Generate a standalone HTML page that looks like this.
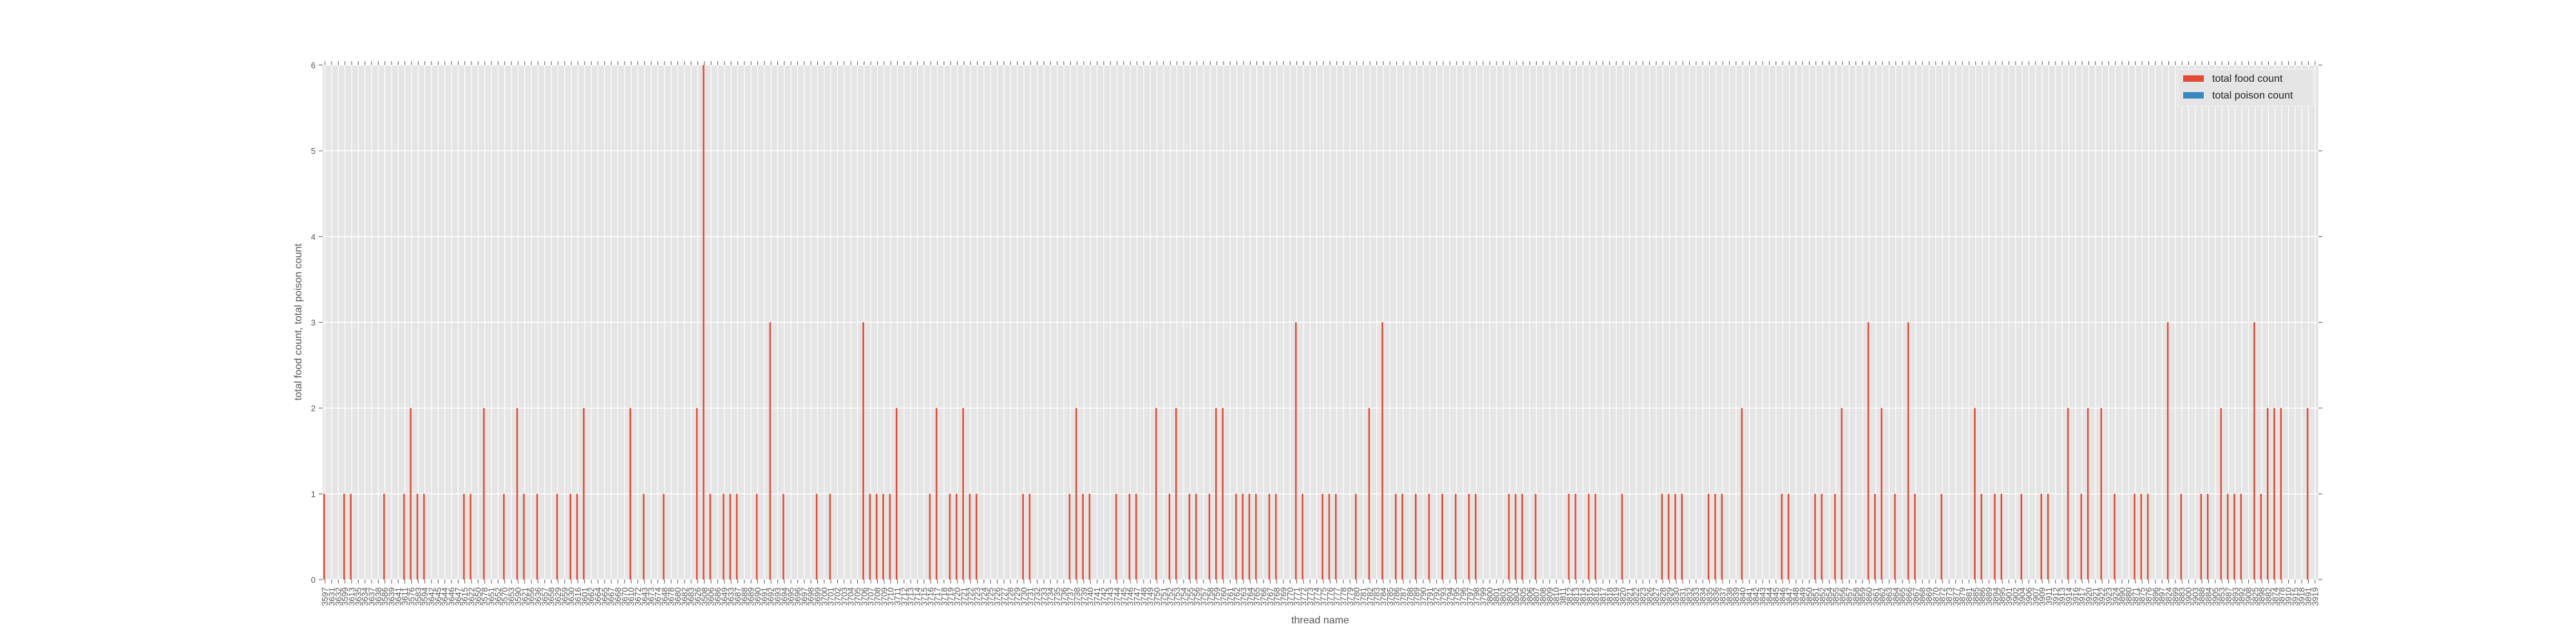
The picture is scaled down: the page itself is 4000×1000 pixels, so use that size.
<!DOCTYPE html>
<html><head><meta charset="utf-8"><style>
html,body{margin:0;padding:0;background:#fff;}
svg{display:block;}
text{font-family:"Liberation Sans",sans-serif;}
</style></head><body>
<svg id="chart" width="4000" height="1000" viewBox="0 0 4000 1000" xmlns="http://www.w3.org/2000/svg">
<rect x="0" y="0" width="4000" height="1000" fill="#ffffff"/>
<rect id="plotbg" x="501" y="101" width="3099" height="799" fill="#E5E5E5"/>
<g id="grid"></g>
<g id="bars"></g>
<g id="axes"></g>
<text x="2050" y="968" font-size="16" fill="#555" text-anchor="middle">thread name</text>
<text transform="translate(468,500) rotate(-90)" font-size="16" fill="#555" text-anchor="middle">total food count, total poison count</text>
<g>
<rect x="3382" y="108" width="210" height="57" fill="#E5E5E5" stroke="#f4f4f4" stroke-width="1"/>
<rect x="3390" y="117" width="32" height="10" fill="#E24A33"/>
<text x="3435" y="127" font-size="16" fill="#222">total food count</text>
<rect x="3390" y="143" width="32" height="10" fill="#348ABD"/>
<text x="3435" y="153" font-size="16" fill="#222">total poison count</text>
</g>
</svg>
<script>
const foodValues = [
1,0,0,1,1,0,0,0,0,1,0,0,1,2,1,1,0,0,0,0,
0,1,1,0,2,0,0,1,0,2,1,0,1,0,0,1,0,1,1,2,
0,0,0,0,0,0,2,0,1,0,0,1,0,0,0,0,2,6,1,0,
1,1,1,0,0,1,0,3,0,1,0,0,0,0,1,0,1,0,0,0,
0,3,1,1,1,1,2,0,0,0,0,1,2,0,1,1,2,1,1,0,
0,0,0,0,0,1,1,0,0,0,0,0,1,2,1,1,0,0,0,1,
0,1,1,0,0,2,0,1,2,0,1,1,0,1,2,2,0,1,1,1,
1,0,1,1,0,0,3,1,0,0,1,1,1,0,0,1,0,2,0,3,
0,1,1,0,1,0,1,0,1,0,1,0,1,1,0,0,0,0,1,1,
1,0,1,0,0,0,0,1,1,0,1,1,0,0,0,1,0,0,0,0,
0,1,1,1,1,0,0,0,1,1,1,0,0,2,0,0,0,0,0,1,
1,0,0,0,1,1,0,1,2,0,0,0,3,1,2,0,1,0,3,1,
0,0,0,1,0,0,0,0,2,1,0,1,1,0,0,1,0,0,1,1,
0,0,2,0,1,2,0,2,0,1,0,0,1,1,1,0,0,3,0,1,
0,0,1,1,0,2,1,1,1,0,3,1,2,2,2,0,0,0,2,0];
const poisonValues = new Array(300).fill(0);
const threadNames = [
"3597","3631","3632","3599","3613","3635","3634","3637","3638","3586","3639","3641","3611","3576","3583","3594","3642","3645","3644","3646",
"3647","3615","3622","3650","3578","3651","3652","3570","3653","3590","3621","3656","3636","3657","3658","3629","3659","3630","3616","3601",
"3662","3664","3665","3667","3668","3670","3610","3672","3643","3673","3674","3648","3678","3680","3682","3683","3626","3508","3606","3686",
"3649","3633","3687","3688","3689","3690","3691","3692","3693","3694","3695","3696","3697","3698","3699","3700","3701","3702","3703","3704",
"3705","3706","3707","3708","3709","3710","3711","3712","3713","3714","3715","3716","3717","3718","3719","3720","3721","3722","3723","3724",
"3725","3726","3727","3728","3729","3730","3731","3732","3733","3734","3735","3736","3737","3738","3739","3740","3741","3742","3743","3744",
"3745","3746","3747","3748","3749","3750","3751","3752","3753","3754","3755","3756","3757","3758","3759","3760","3761","3762","3763","3764",
"3765","3766","3767","3768","3769","3770","3771","3772","3773","3774","3775","3776","3777","3778","3779","3780","3781","3782","3783","3784",
"3785","3786","3787","3788","3789","3790","3791","3792","3793","3794","3795","3796","3797","3798","3799","3800","3801","3802","3803","3804",
"3805","3806","3807","3808","3809","3810","3811","3812","3813","3814","3815","3816","3817","3818","3819","3820","3821","3822","3823","3826",
"3827","3828","3829","3830","3831","3832","3833","3834","3835","3836","3837","3838","3839","3840","3841","3842","3843","3844","3845","3846",
"3847","3848","3849","3850","3851","3852","3854","3855","3856","3857","3858","3859","3860","3861","3862","3863","3864","3865","3866","3867",
"3868","3869","3870","3872","3873","3877","3879","3881","3885","3886","3889","3894","3895","3901","3902","3904","3906","3907","3909","3911",
"3912","3913","3914","3916","3917","3920","3921","3922","3923","3924","3890","3880","3871","3875","3876","3896","3897","3824","3899","3883",
"3900","3903","3888","3884","3905","3853","3887","3893","3892","3908","3825","3898","3882","3874","3878","3910","3915","3918","3891","3919"];
const yTicks = [0,1,2,3,4,5,6];

const NS = "http://www.w3.org/2000/svg";
const X0 = 504.7, STEP = 10.335, Y0 = 900, YTOP = 101, YMAX = 6;
function xScale(i){ return X0 + i * STEP; }
function yScale(v){ return Y0 - (Y0 - YTOP) * v / YMAX; }
function mk(tag, attrs, parent){
  const el = document.createElementNS(NS, tag);
  for (const k in attrs) el.setAttribute(k, attrs[k]);
  parent.appendChild(el);
  return el;
}
const grid = document.getElementById("grid");
const bars = document.getElementById("bars");
const axes = document.getElementById("axes");

yTicks.forEach(function(t){
  const y = yScale(t);
  const g = mk("line", {x1:501, x2:3600, y1:y, y2:y, stroke:"#ffffff", "stroke-width":1.5}, grid);
  
  
  const tl = mk("line", {x1:495, x2:501, y1:y, y2:y, stroke:"#555", "stroke-width":1}, axes);
  
  
  const tr = mk("line", {x1:3600, x2:3606, y1:y, y2:y, stroke:"#555", "stroke-width":1}, axes);
  
  
  const lb = mk("text", {x:490, y:y+5, "font-size":13, fill:"#555", "text-anchor":"end"}, axes);
  lb.textContent = String(t);
  
  
});

threadNames.forEach(function(name, i){
  const x = xScale(i);
  const g = mk("line", {x1:x, x2:x, y1:101, y2:900, stroke:"#ffffff", "stroke-width":1.2}, grid);
  
  
  const tb = mk("line", {x1:x, x2:x, y1:900, y2:906, stroke:"#555", "stroke-width":1}, axes);
  
  
  const tt = mk("line", {x1:x, x2:x, y1:95, y2:101, stroke:"#555", "stroke-width":1}, axes);
  
  
  const lb = mk("text", {transform:"translate(" + (x+4.5) + ",912) rotate(-90)", "font-size":13, fill:"#555", "text-anchor":"end"}, axes);
  lb.textContent = name;
  
  
});

const BW = STEP * 0.25;
foodValues.forEach(function(v, i){
  if (v <= 0) return;
  const x = xScale(i);
  const r = mk("rect", {x:x - BW, y:yScale(v), width:BW, height:Y0 - yScale(v), fill:"#E24A33"}, bars);
  
  
});
poisonValues.forEach(function(v, i){
  if (v <= 0) return;
  const x = xScale(i);
  const r = mk("rect", {x:x, y:yScale(v), width:BW, height:Y0 - yScale(v), fill:"#348ABD"}, bars);
  
  
});
</script>
</body></html>
